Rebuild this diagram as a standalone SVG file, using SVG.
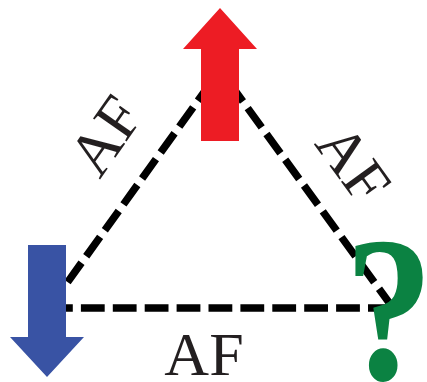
<svg xmlns="http://www.w3.org/2000/svg" width="427" height="382" viewBox="0 0 427 382">
<style>
.dash{fill:none;stroke:#000;stroke-width:7.5;stroke-dasharray:23.8 8.1;stroke-linecap:butt}
.lbl{font-family:"Liberation Serif","Times New Roman",serif;font-size:62px;fill:#231f20;text-anchor:middle}
</style>
<rect width="427" height="382" fill="#fff"/>
<g id="connectors">
<line class="dash" x1="49" y1="308" x2="220" y2="70"/>
<line class="dash" x1="393" y1="308" x2="220" y2="70"/>
<line class="dash" x1="49" y1="308" x2="395" y2="308"/>
</g>
<g id="up-arrow">
<polygon points="220,8 257,49 239,49 239,141 201,141 201,49 183,49" fill="#ed1c24"/>
</g>
<g id="down-arrow">
<polygon points="28,245 66,245 66,337 84,337 47,377 10,337 28,337" fill="#3953a4"/>
</g>
<g id="question">
<text transform="translate(389,379) scale(0.85,1)" x="0" y="0" style="font-family:'Liberation Serif','Times New Roman',serif;font-weight:bold;font-size:208px;fill:#0b8242;text-anchor:middle">?</text>
</g>
<g id="label-left">
<text class="lbl" transform="translate(106,136) rotate(-55)" x="0" y="20">AF</text>
</g>
<g id="label-right">
<text class="lbl" transform="translate(353,164) rotate(54)" x="0" y="20">AF</text>
</g>
<g id="label-bottom">
<text class="lbl" x="204" y="375">AF</text>
</g>
</svg>
